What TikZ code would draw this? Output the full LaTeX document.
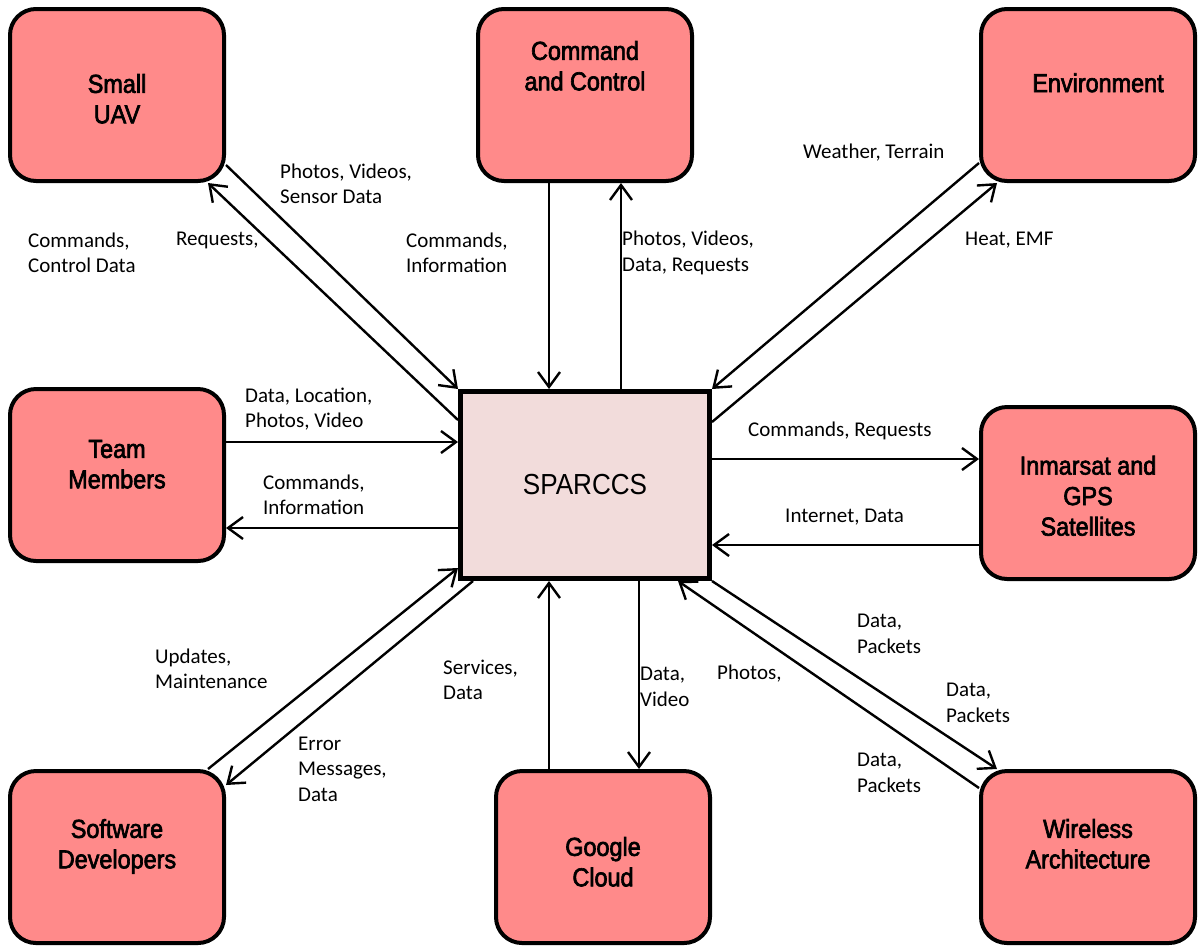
\documentclass[tikz,border=0pt]{standalone}
\usepackage{fontspec}
\setmainfont{Carlito}
\newfontfamily\entfont[FakeStretch=0.9, FakeBold=2.5]{Liberation Sans}
\newfontfamily\sysfont[FakeStretch=0.9]{Liberation Sans}
\usepackage{tikz}
\usetikzlibrary{arrows.meta, positioning, calc}
\definecolor{entred}{HTML}{FF8A8A}
\definecolor{syspink}{HTML}{F2DCDB}
\newcommand{\lift}[2]{\raisebox{#1}[\height][\depth]{\begin{tabular}{@{}c@{}}#2\end{tabular}}}
\tikzset{%
	ent/.style={draw, line width=4pt, rectangle, rounded corners=26pt, fill=entred,%
		minimum width=214pt, minimum height=172pt, inner sep=0pt,%
		font=\entfont\fontsize{26pt}{30.5pt}\selectfont},
	sys/.style={draw, line width=5pt, rectangle, fill=syspink, minimum width=249pt,%
		minimum height=187pt, font=\sysfont\fontsize{29pt}{34pt}\selectfont},
	flow/.style={-{Straight Barb[length=15pt, width=22pt]}, line width=2.4pt},
	lbl/.style={anchor=west, inner sep=0pt, align=left, font=\fontsize{21pt}{25.5pt}\selectfont}
}
\begin{document}
\begin{tikzpicture}[x=1pt, y=-1pt]
	\useasboundingbox (0,0) rectangle (1198,946);
	\node[sys] (sparccs) at (585,485)  {SPARCCS};
	\node[ent] (uav)     at (117,95)   {\lift{-7pt}{Small\\UAV}};
	\node[ent] (c2)      at (585,95)   {\lift{26pt}{Command\\and Control}};
	\node[ent] (env)     at (1088,95)  {\hspace{20pt}\lift{9pt}{Environment}};
	\node[ent] (team)    at (117,475)  {\lift{8pt}{Team\\Members}};
	\node[ent] (sat)     at (1088,493) {\lift{-6pt}{Inmarsat and\\GPS\\Satellites}};
	\node[ent] (dev)     at (117,857)  {\lift{10pt}{Software\\Developers}};
	\node[ent] (cloud)   at (603,857)  {\lift{-8pt}{Google\\Cloud}};
	\node[ent] (wifi)    at (1088,857) {\lift{10pt}{Wireless\\Architecture}};
	\draw [flow] ([yshift=-70pt]uav.east) to (sparccs.north west);
	\draw [flow] ([yshift=65pt]sparccs.west) to ([xshift=91pt]uav.south);
	\draw [flow] ([xshift=-36pt]c2.south) to ([xshift=-36pt]sparccs.north);
	\draw [flow] ([xshift=36pt]sparccs.north) to ([xshift=36pt]c2.south);
	\draw [flow] ([yshift=-68pt]env.west) to (sparccs.north east);
	\draw [flow] ([yshift=63pt]sparccs.east) to ([xshift=-91pt]env.south);
	\draw [flow] ([yshift=33pt]team.east) to ([yshift=33pt]team.east -| sparccs.west);
	\draw [flow] ([yshift=-53pt]team.east -| sparccs.west) to ([yshift=-53pt]team.east);
	\draw [flow] ([yshift=26pt]sparccs.east) to ([yshift=26pt]sparccs.east -| sat.west);
	\draw [flow] ([yshift=-60pt]sparccs.east -| sat.west) to ([yshift=-60pt]sparccs.east);
	\draw [flow] ([xshift=91pt]dev.north) to ([yshift=-83pt]sparccs.west);
	\draw [flow] ([xshift=-112pt]sparccs.south) to ([yshift=72pt]dev.east);
	\draw [flow] ([xshift=-54pt]cloud.north) to ([xshift=-54pt]cloud.north |- sparccs.south);
	\draw [flow] ([xshift=54pt]sparccs.south) to ([xshift=54pt]sparccs.south |- cloud.north);
	\draw [flow] (sparccs.south east) to ([xshift=-91pt]wifi.north);
	\draw [flow] ([yshift=69pt]wifi.west) to ([xshift=93pt]sparccs.south);
	\node[lbl] (l-uav-cmd)    at (28,253)  {Commands,\\Control Data};
	\node[lbl] (l-uav-req)    at (176,240) {Requests,};
	\node[lbl] (l-uav-photo)  at (280,184) {Photos, Videos,\\Sensor Data};
	\node[lbl] (l-c2-cmd)     at (406,253) {Commands,\\Information};
	\node[lbl] (l-c2-photo)   at (622,253) {Photos, Videos,\\Data, Requests};
	\node[lbl] (l-env-wx)     at (803,153) {Weather, Terrain};
	\node[lbl] (l-env-heat)   at (965,240) {Heat, EMF};
	\node[lbl] (l-team-data)  at (245,409) {Data, Location,\\Photos, Video};
	\node[lbl] (l-team-cmd)   at (263,495) {Commands,\\Information};
	\node[lbl] (l-sat-cmd)    at (748,431) {Commands, Requests};
	\node[lbl] (l-sat-net)    at (785,517) {Internet, Data};
	\node[lbl] (l-dev-upd)    at (155,669) {Updates,\\Maintenance};
	\node[lbl] (l-dev-err)    at (298,769) {Error\\Messages,\\Data};
	\node[lbl] (l-cloud-svc)  at (443,680) {Services,\\Data};
	\node[lbl] (l-cloud-data) at (640,687) {Data,\\Video};
	\node[lbl] (l-wifi-photo) at (717,674) {Photos,};
	\node[lbl] (l-wifi-pk1)   at (857,634) {Data,\\Packets};
	\node[lbl] (l-wifi-pk2)   at (946,703) {Data,\\Packets};
	\node[lbl] (l-wifi-pk3)   at (857,773) {Data,\\Packets};
\end{tikzpicture}
\end{document}
